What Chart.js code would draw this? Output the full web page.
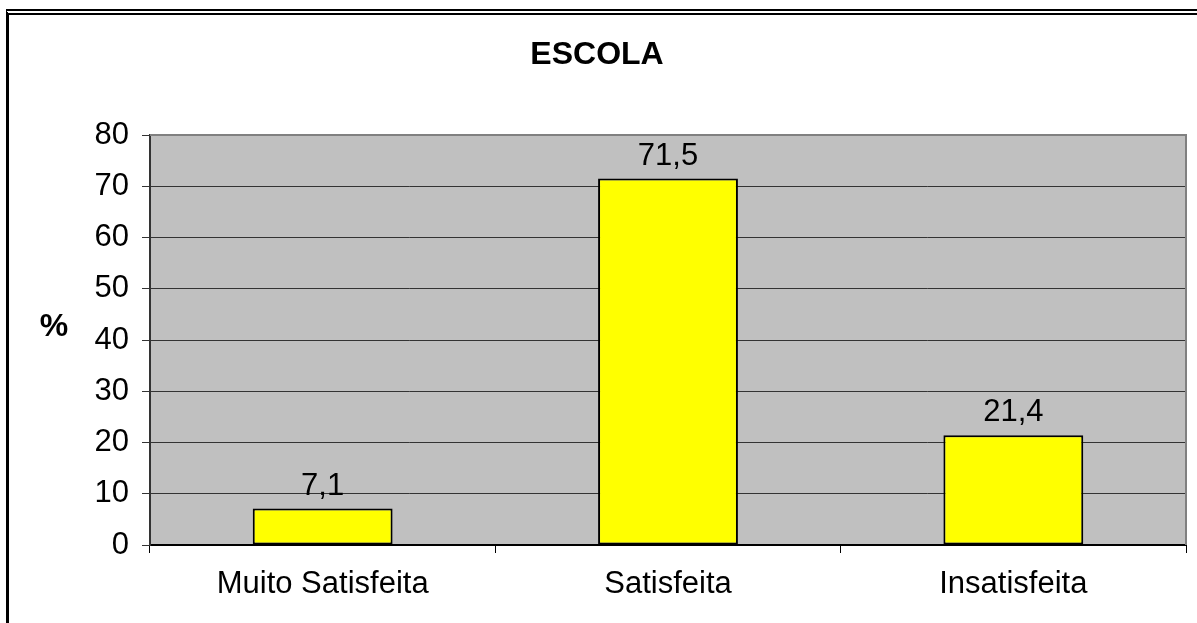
<!DOCTYPE html>
<html>
<head>
<meta charset="utf-8">
<script src="https://cdn.jsdelivr.net/npm/chart.js@4"></script>
<style>
    body { margin: 0; background: #fff; }
    #moldura {
        position: absolute; left: 6px; top: 9px; width: 1300px; height: 700px;
        border-top: 6px double #000; border-left: 3px solid #000;
    }
    #wrap { position: absolute; left: 0; top: 0; width: 1197px; height: 623px; }
</style>
</head>
<body>
<div id="moldura"></div>
<div id="wrap"><canvas id="grafico"></canvas></div>
<script>
// dados do grafico
const categorias = ["Muito Satisfeita", "Satisfeita", "Insatisfeita"];
const percentagens = [7.1, 71.5, 21.4];
const rotulos = ["7,1", "71,5", "21,4"];
const titulo = "ESCOLA";
const tituloEixo = "%";

const fonte = "'Liberation Sans', Arial, sans-serif";

// fundo cinza da area do grafico, titulo e rotulos
const extras = {
    id: 'extras',
    beforeDraw(chart) {
        const { ctx, chartArea: a } = chart;
        ctx.save();
        ctx.fillStyle = '#c0c0c0';
        ctx.fillRect(a.left, a.top, a.right - a.left, a.bottom - a.top);
        ctx.restore();
    },
    afterDraw(chart) {
        const { ctx, chartArea: a } = chart;
        ctx.save();
        ctx.strokeStyle = '#808080';
        ctx.lineWidth = 2;
        ctx.beginPath();
        ctx.moveTo(a.left, a.top);
        ctx.lineTo(a.right, a.top);
        ctx.lineTo(a.right, a.bottom);
        ctx.stroke();

        ctx.fillStyle = '#000';
        ctx.textAlign = 'center';
        ctx.textBaseline = 'alphabetic';
        ctx.font = 'bold 32px ' + fonte;
        ctx.fillText(titulo, 597, 64);
        ctx.fillText(tituloEixo, 54, 336);

        ctx.font = '31px ' + fonte;
        chart.getDatasetMeta(0).data.forEach((bar, i) => {
            ctx.fillText(rotulos[i], bar.x, bar.y - 14);
        });
        ctx.restore();
    }
};

new Chart(document.getElementById('grafico'), {
    type: 'bar',
    data: {
        labels: categorias,
        datasets: [{
            data: percentagens,
            backgroundColor: '#ffff00',
            borderColor: '#000',
            borderWidth: 2,
            borderSkipped: false,
            barPercentage: 0.81,
            categoryPercentage: 0.5
        }]
    },
    options: {
        responsive: true,
        maintainAspectRatio: false,
        animation: false,
        layout: { padding: { left: 0, right: 11, top: 135, bottom: 0 } },
        plugins: { legend: { display: false }, tooltip: { enabled: false } },
        scales: {
            x: {
                afterFit(s) { s.height = 78; },
                grid: { offset: true, drawOnChartArea: false, tickLength: 8, color: '#000', lineWidth: 1 },
                border: { color: '#000', width: 2 },
                ticks: { color: '#000', font: { family: fonte, size: 31 }, padding: 13, maxRotation: 0 }
            },
            y: {
                min: 0, max: 80,
                afterFit(s) { s.width = 150; },
                grid: { color: '#333', lineWidth: 1, tickLength: 8 },
                border: { color: '#333', width: 2 },
                ticks: { stepSize: 10, color: '#000', font: { family: fonte, size: 31 }, padding: 13 }
            }
        }
    },
    plugins: [extras]
});
</script>
</body>
</html>
